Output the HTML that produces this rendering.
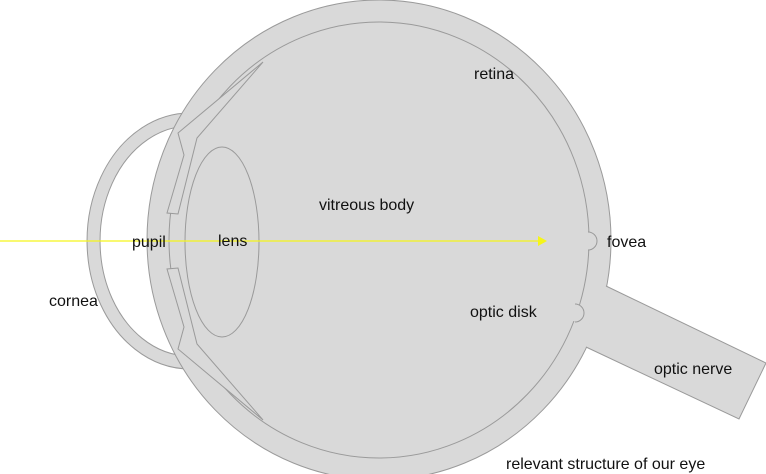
<!DOCTYPE html>
<html><head><meta charset="utf-8"><style>
html,body{margin:0;padding:0;background:#fff;}
svg{display:block;}
text{font-family:"Liberation Sans",sans-serif;font-size:16px;fill:#111;}
</style></head><body>
<svg width="766" height="474" viewBox="0 0 766 474">
  <g fill="#d9d9d9" stroke="#9a9a9a" stroke-width="1">
    <path fill-rule="evenodd" d="M190,113 a103,128 0 1,0 0.1,0 Z M190,126 a90,115 0 1,0 0.1,0 Z"/>
    <ellipse cx="379" cy="240" rx="232" ry="240"/>
    <polygon points="606,286 766,363 739,419 586,347 590,320 598,290" stroke="none"/>
    <polyline points="606,286 766,363 739,419 586,347" fill="none"/>
    <ellipse cx="379" cy="240" rx="210" ry="218" fill="none"/>
    <rect x="578" y="233" width="12" height="16" stroke="none"/>
    <path d="M588,232 A9,9 0 0,1 588,250" fill="#d9d9d9"/>
    <rect x="566" y="305" width="11" height="16" stroke="none"/>
    <path d="M575,304 A9,9 0 0,1 575,322" fill="#d9d9d9"/>
    <polygon points="263,62 178,133 184,155 167,213 178,214 197,138"/>
    <polygon points="263,420 178,349 184,327 167,269 178,268 197,344"/>
    <ellipse cx="222" cy="242" rx="37" ry="95"/>
  </g>
  <line x1="0" y1="241" x2="538" y2="241" stroke="#f5f51a" stroke-width="1.2"/>
  <polygon points="538,236 547,241 538,246" fill="#f5f51a"/>
  <text x="474" y="79">retina</text>
  <text x="319" y="210">vitreous body</text>
  <text x="132" y="247">pupil</text>
  <text x="218" y="246">lens</text>
  <text x="607" y="247">fovea</text>
  <text x="49" y="306">cornea</text>
  <text x="470" y="317">optic disk</text>
  <text x="654" y="374">optic nerve</text>
  <text x="506" y="469">relevant structure of our eye</text>
</svg>
</body></html>
